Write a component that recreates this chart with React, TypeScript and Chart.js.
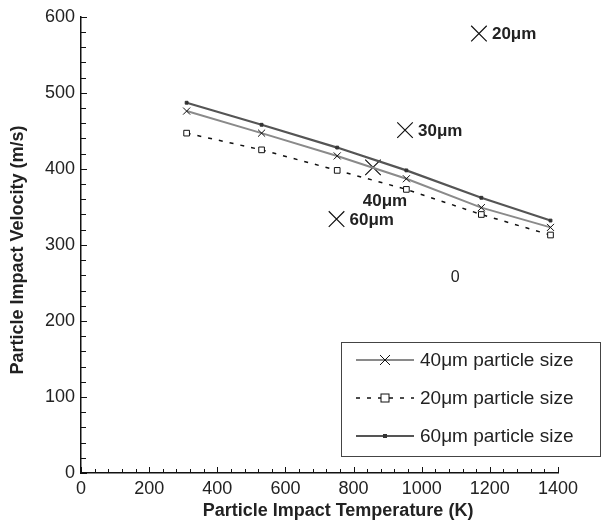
import React, { useEffect, useRef } from "react";
import { Chart, registerables } from "chart.js";

Chart.register(...registerables);

// Impact temperature (K) at each sampled point
const temperatures = [310, 530, 752, 955, 1175, 1378];
// Impact velocity (m/s) per particle size
const velocity40 = [476, 447, 417, 387, 349, 323];
const velocity20 = [447, 425, 398, 373, 340, 313];
const velocity60 = [487, 458, 428, 398, 362, 332];

// Single-point results for individual particle sizes
const sizeLabels = ["20μm", "30μm", "40μm", "60μm"];
const sizeTemps = [1168, 951, 857, 750];
const sizeVelocities = [578, 451, 402, 334];

// Stray note inside the plot
const noteText = "0";
const noteTemp = 1098;
const noteVelocity = 257;

const xTicks = [0, 200, 400, 600, 800, 1000, 1200, 1400];
const yTicks = [0, 100, 200, 300, 400, 500, 600];

const legendNames = ["40μm particle size", "20μm particle size", "60μm particle size"];

const FONT = "'Liberation Sans', Arial, Helvetica, sans-serif";

const series = (ys: number[]) => temperatures.map((t, i) => ({ x: t, y: ys[i] }));

function drawMarker(ctx: CanvasRenderingContext2D, kind: string, x: number, y: number, r: number) {
  ctx.save();
  ctx.setLineDash([]);
  if (kind === "x") {
    ctx.strokeStyle = "#111";
    ctx.lineWidth = 1;
    ctx.beginPath();
    ctx.moveTo(x - r, y - r);
    ctx.lineTo(x + r, y + r);
    ctx.moveTo(x + r, y - r);
    ctx.lineTo(x - r, y + r);
    ctx.stroke();
  } else if (kind === "box") {
    ctx.fillStyle = "#fff";
    ctx.strokeStyle = "#111";
    ctx.lineWidth = 1;
    ctx.fillRect(x - r, y - r, 2 * r, 2 * r);
    ctx.strokeRect(x - r, y - r, 2 * r, 2 * r);
  } else {
    ctx.fillStyle = "#333";
    ctx.fillRect(x - r, y - r, 2 * r, 2 * r);
  }
  ctx.restore();
}

const frame = {
  id: "frame",
  afterDraw(chart: any) {
    const { ctx, chartArea, scales } = chart;
    const xs = scales.x;
    const ys = scales.y;
    ctx.save();
    // inward ticks
    ctx.strokeStyle = "#111";
    ctx.lineWidth = 1;
    ctx.beginPath();
    for (let v = 0; v <= 600; v += 20) {
      const py = Math.round(ys.getPixelForValue(v)) + 0.5;
      const len = v % 100 === 0 ? 6 : 5;
      ctx.moveTo(chartArea.left, py);
      ctx.lineTo(chartArea.left + len, py);
    }
    for (let v = 0; v <= 1400; v += 40) {
      const px = Math.round(xs.getPixelForValue(v)) + 0.5;
      const len = v % 200 === 0 ? 6 : 4;
      ctx.moveTo(px, chartArea.bottom);
      ctx.lineTo(px, chartArea.bottom - len);
    }
    ctx.stroke();

    // axis titles
    ctx.fillStyle = "#222";
    ctx.font = `bold 18px ${FONT}`;
    ctx.textAlign = "center";
    ctx.textBaseline = "middle";
    ctx.fillText("Particle Impact Temperature (K)", 338, 511);
    ctx.save();
    ctx.translate(18, 250);
    ctx.rotate(-Math.PI / 2);
    ctx.fillText("Particle Impact Velocity (m/s)", 0, 0);
    ctx.restore();

    // size labels next to the single-point markers
    ctx.font = `bold 17px ${FONT}`;
    ctx.textAlign = "left";
    sizeLabels.forEach((label, i) => {
      const px = xs.getPixelForValue(sizeTemps[i]);
      const py = ys.getPixelForValue(sizeVelocities[i]);
      if (label === "40μm") {
        ctx.textAlign = "center";
        ctx.fillText(label, px + 12, py + 34);
        ctx.textAlign = "left";
      } else {
        ctx.fillText(label, px + 13, py + 1);
      }
    });
    ctx.font = `16px ${FONT}`;
    ctx.textAlign = "center";
    ctx.fillText(noteText, xs.getPixelForValue(noteTemp), ys.getPixelForValue(noteVelocity));

    // legend
    const bx = 341, by = 342, bw = 259, bh = 114;
    ctx.fillStyle = "#fff";
    ctx.fillRect(bx, by, bw, bh);
    ctx.strokeStyle = "#444";
    ctx.lineWidth = 1;
    ctx.strokeRect(bx + 0.5, by + 0.5, bw, bh);
    const rows = [360, 398, 436];
    const styles = [
      { color: "#8a8a8a", width: 2, dash: [] as number[], marker: "x", r: 5 },
      { color: "#111", width: 1.5, dash: [4, 7], marker: "box", r: 4 },
      { color: "#555", width: 2.2, dash: [] as number[], marker: "dot", r: 2 },
    ];
    ctx.font = `19px ${FONT}`;
    ctx.textAlign = "left";
    ctx.textBaseline = "middle";
    rows.forEach((ry, i) => {
      const s = styles[i];
      ctx.save();
      ctx.strokeStyle = s.color;
      ctx.lineWidth = s.width;
      ctx.setLineDash(s.dash);
      ctx.beginPath();
      ctx.moveTo(356, ry);
      ctx.lineTo(414, ry);
      ctx.stroke();
      ctx.restore();
      drawMarker(ctx, s.marker, 385, ry, s.r);
      ctx.fillStyle = "#222";
      ctx.fillText(legendNames[i], 420, ry + 1);
    });
    ctx.restore();
  },
};

export default function App() {
  const canvasRef = useRef<HTMLCanvasElement | null>(null);

  useEffect(() => {
    if (!canvasRef.current) return;
    const chart = new Chart(canvasRef.current, {
      type: "line",
      data: {
        datasets: [
          {
            label: legendNames[0],
            data: series(velocity40),
            borderColor: "#8a8a8a",
            borderWidth: 2,
            pointStyle: "crossRot",
            pointRadius: 5,
            pointBorderColor: "#111",
            pointBorderWidth: 1,
            tension: 0,
          },
          {
            label: legendNames[1],
            data: series(velocity20),
            borderColor: "#111",
            borderWidth: 1.5,
            borderDash: [4, 7],
            pointStyle: "rect",
            pointRadius: 4,
            pointBackgroundColor: "#fff",
            pointBorderColor: "#111",
            pointBorderWidth: 1,
            tension: 0,
          },
          {
            label: legendNames[2],
            data: series(velocity60),
            borderColor: "#555",
            borderWidth: 2.2,
            pointStyle: "rect",
            pointRadius: 2,
            pointBackgroundColor: "#333",
            pointBorderColor: "#333",
            pointBorderWidth: 1,
            tension: 0,
          },
          {
            label: "sizes",
            data: sizeTemps.map((t, i) => ({ x: t, y: sizeVelocities[i] })),
            showLine: false,
            pointStyle: "crossRot",
            pointRadius: 11,
            pointBorderColor: "#111",
            pointBorderWidth: 1.2,
            borderColor: "#111",
          },
        ],
      },
      options: {
        animation: false,
        responsive: true,
        maintainAspectRatio: false,
        layout: { padding: { left: 0, right: 56, top: 15, bottom: 0 } },
        plugins: { legend: { display: false }, tooltip: { enabled: false } },
        scales: {
          x: {
            type: "linear",
            min: 0,
            max: 1400,
            afterFit: (s: any) => { s.height = 58; },
            afterBuildTicks: (s: any) => { s.ticks = xTicks.map((v) => ({ value: v })); },
            grid: { display: false, drawTicks: false },
            border: { display: true, color: "#111", width: 1.5 },
            ticks: {
              color: "#222",
              font: { family: FONT, size: 18 },
              padding: 5,
              maxRotation: 0,
              callback: (v: any) => String(v),
            },
          },
          y: {
            type: "linear",
            min: 0,
            max: 600,
            afterFit: (s: any) => { s.width = 81; },
            afterBuildTicks: (s: any) => { s.ticks = yTicks.map((v) => ({ value: v })); },
            grid: { display: false, drawTicks: false },
            border: { display: true, color: "#111", width: 1.5 },
            ticks: {
              color: "#222",
              font: { family: FONT, size: 18 },
              padding: 6,
              callback: (v: any) => String(v),
            },
          },
        },
      },
      plugins: [frame],
    });
    return () => chart.destroy();
  }, []);

  return (
    <div style={{ position: "fixed", left: 0, top: 0, width: 614, height: 531, background: "#fff" }}>
      <canvas ref={canvasRef} />
    </div>
  );
}
